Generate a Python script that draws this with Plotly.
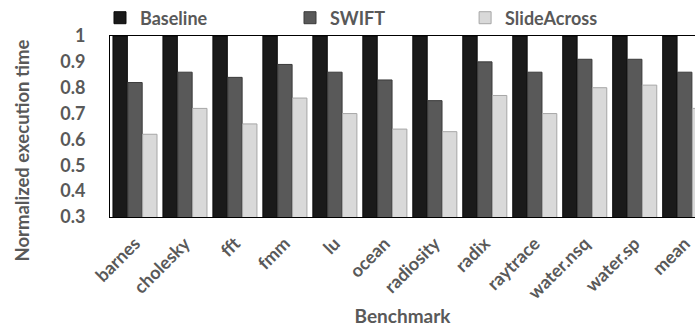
import plotly.graph_objects as go

categories = ["barnes", "cholesky", "fft", "fmm", "lu", "ocean", "radiosity",
              "radix", "raytrace", "water.nsq", "water.sp", "mean"]
baseline = [1.0] * 12
swift = [0.82, 0.86, 0.84, 0.89, 0.86, 0.83, 0.75, 0.90, 0.86, 0.91, 0.91, 0.86]
slideacross = [0.62, 0.72, 0.66, 0.76, 0.70, 0.64, 0.63, 0.77, 0.70, 0.80, 0.81, 0.72]
y_ticks = [0.3, 0.4, 0.5, 0.6, 0.7, 0.8, 0.9, 1]
y_ticklabels = ["0.3", "0.4", "0.5", "0.6", "0.7", "0.8", "0.9", "1"]

FONT = "Lato"
TXT = "#595959"

fig = go.Figure()
fig.add_trace(go.Bar(name="Baseline", x=categories, y=baseline, legend="legend",
                     marker=dict(color="#1a1a1a", line=dict(color="#0a0a0a", width=1))))
fig.add_trace(go.Bar(name="SWIFT", x=categories, y=swift, legend="legend2",
                     marker=dict(color="#595959", line=dict(color="#3a3a3a", width=1))))
fig.add_trace(go.Bar(name="SlideAcross", x=categories, y=slideacross, legend="legend3",
                     marker=dict(color="#d9d9d9", line=dict(color="#a6a6a6", width=1))))

legend_font = dict(family=FONT, size=18, color=TXT, weight="bold")
ly = 1.0994


def leg(x):
    return dict(orientation="h", x=x, xanchor="left", y=ly, yanchor="middle",
                font=legend_font, bgcolor="rgba(0,0,0,0)", borderwidth=0,
                itemwidth=30)


fig.update_layout(
    width=695, height=327,
    margin=dict(l=110, r=0, t=36, b=110, autoexpand=False),
    paper_bgcolor="white", plot_bgcolor="white",
    barmode="group", bargap=0.11, bargroupgap=0.03,
    font=dict(family=FONT, size=14, color=TXT),
    showlegend=True,
    legend=leg(-0.0171),
    legend2=leg(0.3077),
    legend3=leg(0.607),
    xaxis=dict(type="category", range=[-0.5, 11.206], tickangle=-45,
               showline=True, linecolor="black", linewidth=1, mirror=True,
               ticks="", showgrid=False, automargin=False,
               ticklabelstandoff=8,
               tickfont=dict(family=FONT, size=18, color=TXT, weight="bold"),
               title=dict(text="Benchmark", standoff=10,
                          font=dict(family=FONT, size=19, color=TXT, weight="bold"))),
    yaxis=dict(range=[0.3, 1.0], tickvals=y_ticks, ticktext=y_ticklabels,
               showline=True, linecolor="black", linewidth=1, mirror=True,
               ticks="", showgrid=False, zeroline=False, automargin=False,
               ticklabelstandoff=20,
               tickfont=dict(family=FONT, size=18, color=TXT, weight="bold")),
    annotations=[dict(text="Normalized execution time", textangle=-90,
                      xref="paper", yref="paper", x=-0.1496, y=0.370,
                      xanchor="center", yanchor="middle", showarrow=False,
                      font=dict(family=FONT, size=18.5, color=TXT, weight="bold"))],
)

fig.write_html("out.html")
